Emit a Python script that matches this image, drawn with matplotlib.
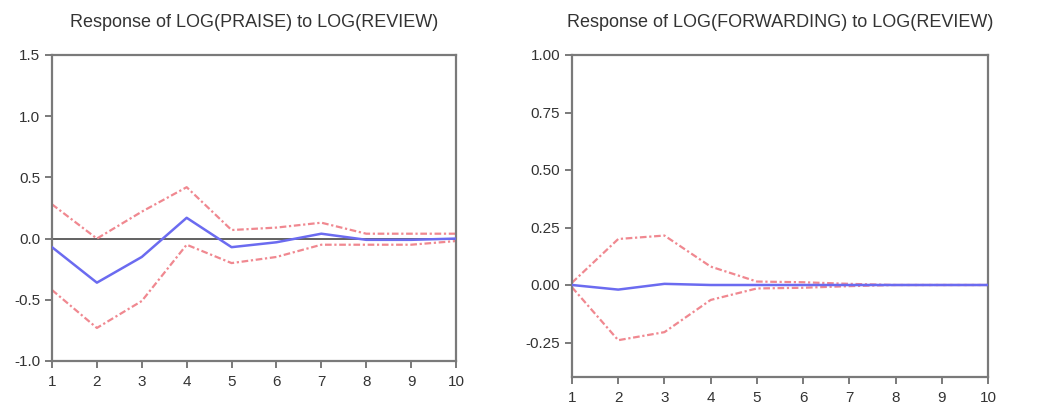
import matplotlib.pyplot as plt

periods = list(range(1, 11))

# Response of LOG(PRAISE) to LOG(REVIEW)
praise_resp = [-0.07, -0.36, -0.15, 0.17, -0.07, -0.03, 0.04, -0.01, -0.01, 0.00]
praise_upper = [0.28, 0.00, 0.22, 0.42, 0.07, 0.09, 0.13, 0.04, 0.04, 0.04]
praise_lower = [-0.42, -0.73, -0.51, -0.05, -0.20, -0.15, -0.05, -0.05, -0.05, -0.02]

# Response of LOG(FORWARDING) to LOG(REVIEW)
fwd_resp = [0.00, -0.02, 0.005, 0.00, 0.00, 0.00, 0.00, 0.00, 0.00, 0.00]
fwd_upper = [0.01, 0.20, 0.215, 0.08, 0.015, 0.012, 0.005, 0.00, 0.00, 0.00]
fwd_lower = [-0.01, -0.24, -0.205, -0.065, -0.015, -0.012, -0.005, 0.00, 0.00, 0.00]

plt.rcParams['font.family'] = ['Liberation Sans', 'DejaVu Sans']

RED = '#f08890'
BLUE = '#6b6bf0'
SPINE = '#7a7a7a'


def panel(ax, title, resp, upper, lower, ylim, yticks, fmt, zero_line=True):
    if zero_line:
        ax.axhline(0, color='#555555', lw=1.3, zorder=1)
    ax.plot(periods, upper, color=RED, lw=1.6, ls=(0, (3, 1.2, 1, 1.2)), zorder=2)
    ax.plot(periods, lower, color=RED, lw=1.6, ls=(0, (3, 1.2, 1, 1.2)), zorder=2)
    ax.plot(periods, resp, color=BLUE, lw=1.8, zorder=3)
    ax.set_xlim(1, 10)
    ax.set_ylim(*ylim)
    ax.set_xticks(periods)
    ax.set_yticks(yticks)
    ax.set_yticklabels([fmt.format(v) for v in yticks])
    ax.set_title(title, fontsize=13, color='#333333', pad=20)
    for s in ax.spines.values():
        s.set_color(SPINE)
        s.set_linewidth(1.6)
    ax.tick_params(direction='out', length=5, width=1.4, color=SPINE,
                   labelsize=11, labelcolor='#333333', top=False, right=False)
    ax.tick_params(axis='x', pad=5)


fig = plt.figure(figsize=(10.44, 4.07), dpi=100)
ax1 = fig.add_axes([52 / 1044, 1 - 361 / 407, 404 / 1044, 306 / 407])
ax2 = fig.add_axes([572 / 1044, 1 - 377 / 407, 416 / 1044, 322 / 407])

panel(ax1, 'Response of LOG(PRAISE) to LOG(REVIEW)',
      praise_resp, praise_upper, praise_lower,
      (-1.0, 1.5), [-1.0, -0.5, 0.0, 0.5, 1.0, 1.5], '{:.1f}')
panel(ax2, 'Response of LOG(FORWARDING) to LOG(REVIEW)',
      fwd_resp, fwd_upper, fwd_lower,
      (-0.40, 1.00), [-0.25, 0.0, 0.25, 0.5, 0.75, 1.0], '{:.2f}', zero_line=False)

fig.savefig('out.png', dpi=100)
